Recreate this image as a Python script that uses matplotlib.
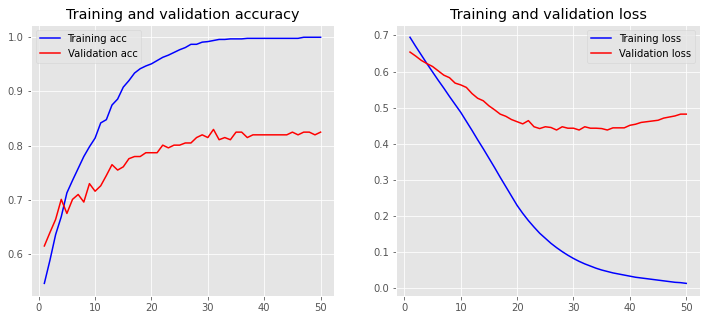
import matplotlib
matplotlib.use('Agg')
import matplotlib.pyplot as plt

plt.style.use('ggplot')

epochs = list(range(1, 51))

# accuracy per epoch
acc = [0.546, 0.589, 0.636, 0.669, 0.713, 0.736, 0.758, 0.780, 0.798, 0.814,
       0.842, 0.848, 0.875, 0.886, 0.908, 0.920, 0.934, 0.942, 0.947, 0.951,
       0.957, 0.963, 0.967, 0.972, 0.977, 0.981, 0.987, 0.987, 0.991, 0.992,
       0.994, 0.996, 0.996, 0.997, 0.997, 0.997, 0.998, 0.998, 0.998, 0.998,
       0.998, 0.998, 0.998, 0.998, 0.998, 0.998, 1.000, 1.000, 1.000, 1.000]
val_acc = [0.615, 0.640, 0.664, 0.701, 0.675, 0.701, 0.710, 0.696, 0.730, 0.716,
           0.726, 0.745, 0.765, 0.755, 0.761, 0.776, 0.780, 0.780, 0.787, 0.787,
           0.787, 0.801, 0.796, 0.801, 0.801, 0.805, 0.805, 0.815, 0.820, 0.815,
           0.830, 0.811, 0.815, 0.811, 0.825, 0.825, 0.815, 0.820, 0.820, 0.820,
           0.820, 0.820, 0.820, 0.820, 0.825, 0.820, 0.825, 0.825, 0.820, 0.825]

# loss per epoch
loss = [0.695, 0.670, 0.646, 0.622, 0.599, 0.576, 0.554, 0.531, 0.509, 0.487,
        0.462, 0.437, 0.411, 0.386, 0.360, 0.334, 0.307, 0.281, 0.255, 0.229,
        0.207, 0.187, 0.169, 0.152, 0.138, 0.124, 0.112, 0.101, 0.091, 0.082,
        0.074, 0.067, 0.061, 0.055, 0.050, 0.046, 0.042, 0.039, 0.036, 0.033,
        0.030, 0.028, 0.026, 0.024, 0.022, 0.020, 0.018, 0.016, 0.015, 0.013]
val_loss = [0.654, 0.643, 0.631, 0.622, 0.614, 0.602, 0.590, 0.583, 0.568, 0.563,
            0.556, 0.539, 0.526, 0.519, 0.505, 0.494, 0.482, 0.476, 0.467, 0.461,
            0.455, 0.464, 0.447, 0.442, 0.447, 0.445, 0.438, 0.447, 0.443, 0.443,
            0.438, 0.447, 0.443, 0.443, 0.442, 0.438, 0.444, 0.444, 0.444, 0.451,
            0.454, 0.459, 0.461, 0.463, 0.465, 0.471, 0.474, 0.477, 0.482, 0.482]

fig = plt.figure(figsize=(710 / 72, 320 / 72), dpi=72)
ax1 = fig.add_axes([0.043, 0.076, 0.428, 0.846])
ax2 = fig.add_axes([0.558, 0.076, 0.428, 0.846])

ax1.plot(epochs, acc, 'b', label='Training acc')
ax1.plot(epochs, val_acc, 'r', label='Validation acc')
ax1.set_title('Training and validation accuracy')
ax1.legend(loc='upper left')

ax2.plot(epochs, loss, 'b', label='Training loss')
ax2.plot(epochs, val_loss, 'r', label='Validation loss')
ax2.set_title('Training and validation loss')
ax2.legend(loc='upper right')

fig.savefig('out.png', dpi=72)
